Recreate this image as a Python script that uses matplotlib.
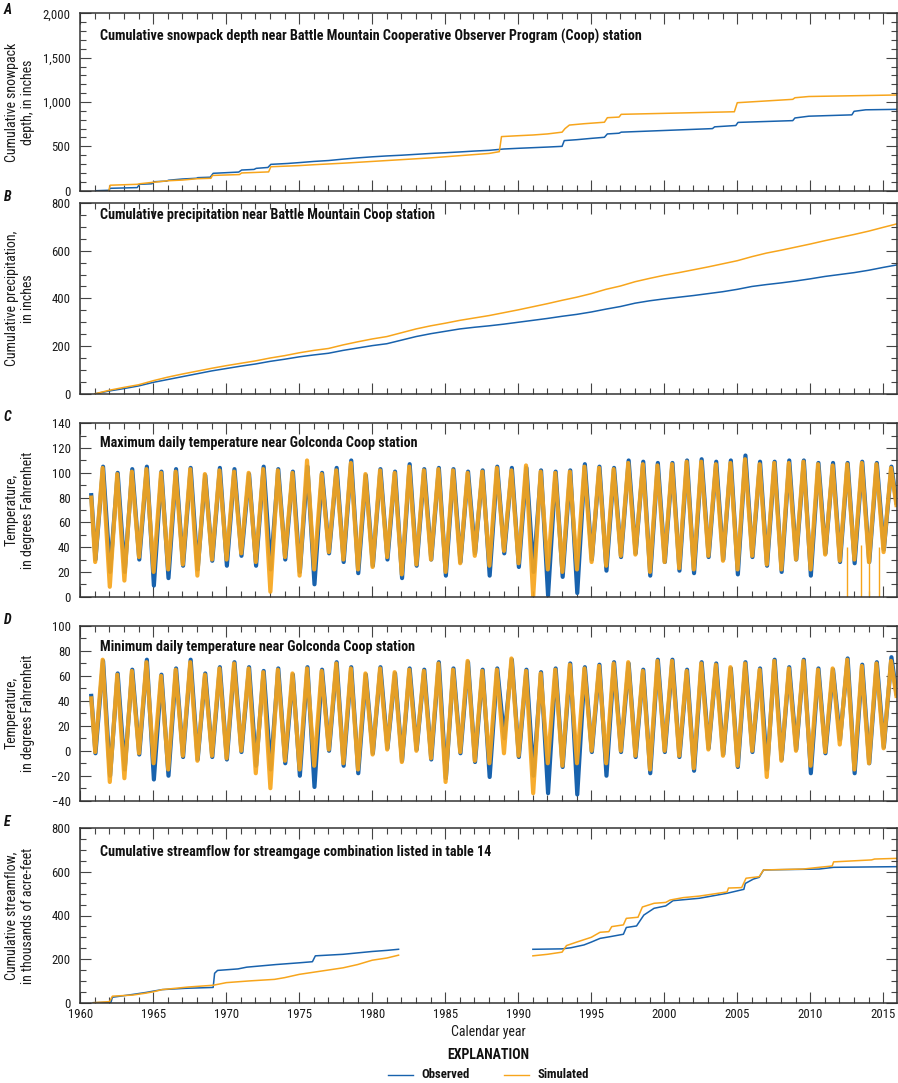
import matplotlib
matplotlib.use('Agg')
import matplotlib.pyplot as plt
from matplotlib import font_manager
from matplotlib.ticker import MultipleLocator, FuncFormatter
from matplotlib.lines import Line2D

ttf = font_manager.fontManager.ttflist
names = {f.name for f in ttf}
FONT = None
STRETCH = 'normal'
for nm in ['Liberation Sans Narrow', 'Roboto Condensed', 'Open Sans Condensed', 'Arial Narrow']:
    if nm in names:
        FONT = nm
        break
if FONT is None:
    for fam in ['Roboto', 'Open Sans', 'Noto Sans', 'DejaVu Sans']:
        if any(f.name == fam and 'condensed' in str(f.stretch) for f in ttf):
            FONT, STRETCH = fam, 'condensed'
            break
if FONT is None:
    FONT = 'Liberation Sans'
plt.rcParams['font.family'] = [FONT, 'DejaVu Sans']
plt.rcParams['font.stretch'] = STRETCH

BLUE = '#1862ad'
ORANGE = '#f7a51c'

# ---------------- Panel A: cumulative snowpack depth ----------------
a_obs_year = [1961.1, 1961.95, 1962.05, 1963.9, 1964.05, 1964.9, 1965.05, 1965.9, 1966.05, 1967.0,
              1967.95, 1968.05, 1968.9, 1969.1, 1970.85, 1971.05, 1971.9, 1972.05, 1972.85, 1973.05,
              1974.2, 1975.1, 1976.0, 1977.0, 1978.0, 1979.0, 1980.0, 1981.0, 1982.0, 1983.0,
              1984.0, 1985.0, 1986.0, 1987.0, 1988.0, 1989.0, 1990.0, 1991.0, 1992.0, 1993.0,
              1993.15, 1994.0, 1995.0, 1995.9, 1996.1, 1996.9, 1997.05, 2003.3, 2003.45, 2004.9,
              2005.05, 2008.8, 2008.95, 2009.9, 2012.85, 2013.0, 2013.8, 2015.9]
a_obs_val = [0, 5, 27, 35, 72, 78, 101, 108, 118, 132,
             140, 147, 152, 196, 210, 233, 240, 252, 262, 297,
             307, 318, 330, 340, 356, 370, 382, 392, 400, 410,
             420, 428, 437, 447, 455, 470, 478, 485, 492, 500,
             565, 575, 590, 602, 640, 648, 660, 700, 720, 735,
             770, 790, 820, 840, 855, 895, 912, 917]
a_sim_year = [1961.95, 1962.05, 1963.9, 1964.05, 1965.0, 1966.0, 1967.0, 1968.0, 1968.95, 1969.05,
              1970.9, 1971.05, 1972.0, 1972.9, 1973.05, 1975.0, 1976.0, 1978.0, 1980.0, 1982.0,
              1984.0, 1986.0, 1988.0, 1988.7, 1988.85, 1990.0, 1991.0, 1992.0, 1993.0, 1993.2,
              1993.5, 1994.5, 1995.9, 1996.1, 1996.9, 1997.05, 2004.8, 2005.0, 2008.8, 2008.95,
              2009.9, 2015.9]
a_sim_val = [0, 62, 72, 78, 95, 112, 120, 135, 140, 172,
             182, 200, 206, 212, 270, 283, 293, 310, 330, 350,
             370, 395, 420, 440, 610, 620, 628, 640, 660, 700,
             740, 755, 772, 823, 830, 861, 890, 992, 1030, 1048,
             1062, 1079]

# ---------------- Panel B: cumulative precipitation ----------------
b_year = [1961, 1962, 1963, 1964, 1965, 1966, 1967, 1968, 1969, 1970,
          1971, 1972, 1973, 1974, 1975, 1976, 1977, 1978, 1979, 1980,
          1981, 1982, 1983, 1984, 1985, 1986, 1987, 1988, 1989, 1990,
          1991, 1992, 1993, 1994, 1995, 1996, 1997, 1998, 1999, 2000,
          2001, 2002, 2003, 2004, 2005, 2006, 2007, 2008, 2009, 2010,
          2011, 2012, 2013, 2014, 2015, 2015.9]
b_obs = [0, 12, 22, 33, 48, 60, 72, 84, 96, 106,
         116, 125, 136, 145, 155, 163, 170, 182, 192, 202,
         210, 225, 240, 252, 262, 272, 279, 285, 292, 300,
         308, 316, 325, 333, 343, 355, 366, 380, 390, 398,
         405, 412, 420, 428, 438, 450, 458, 465, 473, 482,
         492, 500, 508, 518, 530, 540]
b_sim = [0, 15, 27, 38, 55, 70, 83, 95, 107, 118,
         128, 138, 150, 160, 172, 182, 190, 205, 218, 230,
         240, 256, 272, 285, 296, 308, 318, 328, 340, 352,
         365, 378, 392, 405, 420, 438, 452, 470, 484, 497,
         508, 520, 532, 545, 558, 575, 590, 602, 615, 628,
         642, 655, 668, 682, 698, 712]

# ---------------- Panels C and D: daily temperature (yearly summer peaks / winter lows) ----------------
t_years = list(range(1961, 2016))
t_start, t_end = 1960.75, 2015.9
obs_timing = [0.04, 0.56]   # fraction of year of winter low / summer peak
sim_timing = [0.02, 0.53]

c_obs_peak = [105, 100, 103, 105, 101, 103, 104, 98, 104, 103, 99, 105, 103, 101, 105, 100, 104, 110, 98, 103,
              101, 107, 103, 104, 103, 101, 102, 105, 104, 104, 102, 101, 102, 107, 105, 104, 110, 109, 108, 108,
              110, 111, 109, 110, 114, 109, 109, 110, 110, 108, 108, 108, 109, 108, 105]
c_sim_peak = [104, 99, 101, 103, 100, 101, 103, 99, 102, 101, 100, 103, 102, 100, 110, 99, 102, 108, 99, 102,
              100, 105, 102, 103, 102, 100, 101, 104, 102, 106, 101, 100, 101, 105, 104, 103, 108, 107, 106, 107,
              109, 109, 107, 108, 111, 107, 108, 108, 109, 107, 106, 107, 108, 107, 104]
c_obs_low = [30, 20, 20, 30, 9, 15, 25, 22, 29, 25, 33, 25, 22, 30, 20, 10, 35, 28, 19, 25,
             30, 15, 25, 30, 17, 28, 35, 17, 35, 24, 20, 1, 16, 3, 30, 21, 32, 35, 17, 28,
             21, 19, 32, 30, 18, 32, 25, 20, 30, 17, 35, 28, 27, 28, 38]
c_sim_low = [28, 8, 13, 32, 20, 22, 26, 17, 30, 30, 35, 28, 4, 32, 17, 22, 36, 30, 22, 24,
             32, 18, 26, 30, 20, 27, 33, 25, 37, 27, 0, 22, 20, 22, 28, 25, 33, 34, 20, 28,
             23, 22, 33, 29, 22, 33, 26, 22, 30, 22, 34, 29, 30, 28, 36]
c_obs_ends = [82, 76]
c_sim_ends = [80, 74]
c_sim_drop_year = [2012.5, 2013.5, 2014.0, 2014.7]
c_sim_drop_top = [40, 42, 38, 40]
c_sim_drop_low = [0, 0, 0, 0]

d_obs_peak = [72, 62, 65, 73, 61, 66, 73, 62, 67, 71, 67, 64, 66, 61, 67, 65, 71, 67, 61, 67,
              62, 66, 65, 71, 66, 71, 65, 66, 73, 65, 63, 66, 70, 67, 69, 71, 70, 65, 73, 73,
              65, 71, 70, 66, 71, 66, 73, 67, 73, 66, 65, 74, 69, 71, 75]
d_sim_peak = [73, 61, 64, 71, 60, 65, 71, 61, 66, 70, 66, 63, 65, 62, 66, 64, 70, 66, 62, 66,
              63, 65, 64, 70, 65, 72, 64, 65, 74, 64, 62, 65, 69, 66, 68, 70, 71, 64, 72, 72,
              64, 70, 69, 67, 70, 65, 72, 66, 72, 65, 66, 73, 68, 70, 72]
d_obs_low = [-2, -20, -15, -3, -23, -20, -5, -7, -5, -7, -1, -12, -15, -10, -20, -29, 0, -12, -18, -2,
             2, -8, 1, -7, -22, -2, -9, -21, 10, -5, -20, -34, -13, -35, -1, -20, -1, -5, -18, -1,
             -5, -16, 2, -3, -13, -1, -15, -7, 1, -18, -2, 9, -18, -10, 3]
d_sim_low = [-1, -25, -22, -2, -10, -15, -4, -8, -4, -6, 0, -18, -30, -8, -15, -12, 1, -10, -15, -3,
             1, -9, 0, -6, -25, -1, -8, -10, -2, -4, -34, -10, -12, -10, 0, -10, 0, -4, -15, 0,
             -4, -14, 1, -4, -12, 0, -21, -8, 0, -12, -1, 5, -15, -10, 2]
d_obs_ends = [44, 46]
d_sim_ends = [42, 44]

# ---------------- Panel E: cumulative streamflow ----------------
e_obs_year1 = [1960.9, 1962.1, 1962.2, 1963.6, 1964.5, 1965.0, 1965.6, 1967.2, 1969.1, 1969.2,
               1969.4, 1970.8, 1971.4, 1973.4, 1975.0, 1975.9, 1976.1, 1978.0, 1980.0, 1981.0, 1981.8]
e_obs_val1 = [0, 2, 25, 38, 47, 53, 60, 66, 70, 135,
              148, 155, 163, 175, 183, 188, 215, 222, 235, 240, 245]
e_sim_year1 = [1960.9, 1962.0, 1962.2, 1963.6, 1964.5, 1965.0, 1965.6, 1967.4, 1969.1, 1970.0,
               1971.6, 1973.3, 1974.0, 1975.0, 1976.0, 1978.0, 1979.0, 1980.0, 1981.0, 1981.8]
e_sim_val1 = [0, 5, 30, 35, 44, 50, 60, 72, 80, 92,
              100, 107, 115, 130, 140, 160, 175, 195, 205, 218]
e_obs_year2 = [1991.0, 1993.0, 1993.6, 1994.5, 1995.0, 1995.6, 1996.3, 1997.2, 1997.4, 1998.1,
               1998.3, 1998.6, 1999.3, 2000.1, 2000.6, 2002.4, 2003.4, 2004.3, 2005.45, 2005.55,
               2006.1, 2006.5, 2006.8, 2010.6, 2011.6, 2015.9]
e_obs_val2 = [245, 247, 252, 265, 278, 295, 303, 314, 345, 352,
              372, 402, 433, 444, 468, 479, 491, 502, 520, 547,
              567, 575, 609, 613, 621, 624]
e_sim_year2 = [1991.0, 1992.0, 1993.0, 1993.3, 1994.0, 1995.0, 1995.6, 1996.2, 1996.4, 1997.2,
               1997.4, 1998.2, 1998.5, 1999.3, 2000.1, 2000.4, 2001.3, 2002.4, 2003.4, 2004.3,
               2004.4, 2005.3, 2005.6, 2006.5, 2006.8, 2009.5, 2010.6, 2011.5, 2011.6, 2014.2,
               2014.4, 2015.9]
e_sim_val2 = [215, 222, 232, 262, 278, 300, 323, 326, 349, 357,
              387, 392, 439, 456, 460, 471, 482, 489, 499, 508,
              526, 528, 571, 578, 609, 613, 621, 627, 646, 655,
              659, 662]

titles = ['Cumulative snowpack depth near Battle Mountain Cooperative Observer Program (Coop) station',
          'Cumulative precipitation near Battle Mountain Coop station',
          'Maximum daily temperature near Golconda Coop station',
          'Minimum daily temperature near Golconda Coop station',
          'Cumulative streamflow for streamgage combination listed in table 14']
ylabels = ['Cumulative snowpack\ndepth, in inches',
           'Cumulative precipitation,\nin inches',
           'Temperature,\nin degrees Fahrenheit',
           'Temperature,\nin degrees Fahrenheit',
           'Cumulative streamflow,\nin thousands of acre-feet']
letters = ['A', 'B', 'C', 'D', 'E']


def zigzag(lows, peaks, ends, timing):
    xs = [t_start]
    ys = [ends[0]]
    for yr, lo, hi in zip(t_years, lows, peaks):
        xs += [yr + timing[0], yr + timing[1]]
        ys += [lo, hi]
    xs.append(t_end)
    ys.append(ends[1])
    return xs, ys


W, H = 898, 1083
fig = plt.figure(figsize=(W / 100, H / 100), dpi=100)
LEFT, RIGHT = 80.3, 896.7
panel_px = [(13.3, 190.7), (203.0, 393.8), (423.3, 596.7), (626.0, 800.7), (828.3, 1002.7)]
axes = []
for top, bot in panel_px:
    ax = fig.add_axes([LEFT / W, 1 - bot / H, (RIGHT - LEFT) / W, (bot - top) / H])
    axes.append(ax)

ylims = [(0, 2000), (0, 800), (0, 140), (-40, 100), (0, 800)]
majors = [500, 200, 20, 20, 200]
minors = [100, 50, 10, 10, 50]
title_y = [0.87, 0.935, 0.885, 0.88, 0.862]

lw_cum = 1.1
axA, axB, axC, axD, axE = axes
axA.plot(a_obs_year, a_obs_val, color=BLUE, lw=lw_cum)
axA.plot(a_sim_year, a_sim_val, color=ORANGE, lw=lw_cum)
axB.plot(b_year, b_obs, color=BLUE, lw=lw_cum)
axB.plot(b_year, b_sim, color=ORANGE, lw=lw_cum)

lw_t = 3.0
x, y = zigzag(c_obs_low, c_obs_peak, c_obs_ends, obs_timing)
axC.plot(x, y, color=BLUE, lw=lw_t)
x, y = zigzag(c_sim_low, c_sim_peak, c_sim_ends, sim_timing)
axC.plot(x, y, color=ORANGE, lw=lw_t, alpha=0.92)
axC.vlines(c_sim_drop_year, c_sim_drop_low, c_sim_drop_top, color=ORANGE, lw=1.0)
x, y = zigzag(d_obs_low, d_obs_peak, d_obs_ends, obs_timing)
axD.plot(x, y, color=BLUE, lw=lw_t)
x, y = zigzag(d_sim_low, d_sim_peak, d_sim_ends, sim_timing)
axD.plot(x, y, color=ORANGE, lw=lw_t, alpha=0.92)

axE.plot(e_obs_year1, e_obs_val1, color=BLUE, lw=lw_cum)
axE.plot(e_obs_year2, e_obs_val2, color=BLUE, lw=lw_cum)
axE.plot(e_sim_year1, e_sim_val1, color=ORANGE, lw=lw_cum)
axE.plot(e_sim_year2, e_sim_val2, color=ORANGE, lw=lw_cum)

comma = FuncFormatter(lambda v, p: f'{v:,.0f}'.replace('-', '\u2212'))
for i, ax in enumerate(axes):
    ax.set_xlim(1960, 2015.92)
    ax.set_ylim(*ylims[i])
    ax.xaxis.set_major_locator(MultipleLocator(5))
    ax.xaxis.set_minor_locator(MultipleLocator(1))
    ax.yaxis.set_major_locator(MultipleLocator(majors[i]))
    ax.yaxis.set_minor_locator(MultipleLocator(minors[i]))
    ax.yaxis.set_major_formatter(comma)
    ax.tick_params(which='both', direction='in', top=True, right=True, width=0.8,
                   color='#444444', labelsize=9.2, labelcolor='#1a1a1a')
    ax.tick_params(which='major', length=8)
    ax.tick_params(which='minor', length=4.5)
    ax.tick_params(axis='y', pad=7)
    ax.tick_params(axis='x', pad=4)
    if i < 4:
        ax.tick_params(labelbottom=False)
    for s in ax.spines.values():
        s.set_linewidth(1.1)
        s.set_color('#333333')
    ax.text(0.024, title_y[i], titles[i], transform=ax.transAxes, fontsize=10.2,
            fontweight='bold', ha='left', va='center', color='#111111')
    top, bot = panel_px[i]
    fig.text(20 / W, 1 - (top + bot) / 2 / H, ylabels[i], rotation=90, ha='center', va='center',
             fontsize=10, linespacing=1.25, color='#1a1a1a')
    fig.text(4 / W, 1 - (top - 3 if i == 0 else top - 6) / H, letters[i], fontsize=10,
             fontweight='bold', fontstyle='italic', ha='left', va='center', color='#111111')

fig.text(488.5 / W, 1 - 1032 / H, 'Calendar year', ha='center', va='center', fontsize=10, color='#1a1a1a')
fig.text(488.5 / W, 1 - 1055 / H, 'EXPLANATION', ha='center', va='center', fontsize=10,
         fontweight='bold', color='#111111')
fig.add_artist(Line2D([388 / W, 413 / W], [1 - 1075 / H] * 2, color=BLUE, lw=1.0, transform=fig.transFigure))
fig.add_artist(Line2D([504 / W, 529 / W], [1 - 1075 / H] * 2, color=ORANGE, lw=1.0, transform=fig.transFigure))
fig.text(421 / W, 1 - 1075 / H, 'Observed', ha='left', va='center', fontsize=9.2, fontweight='bold', color='#111111')
fig.text(538 / W, 1 - 1075 / H, 'Simulated', ha='left', va='center', fontsize=9.2, fontweight='bold', color='#111111')

fig.savefig('out.png', dpi=100)
